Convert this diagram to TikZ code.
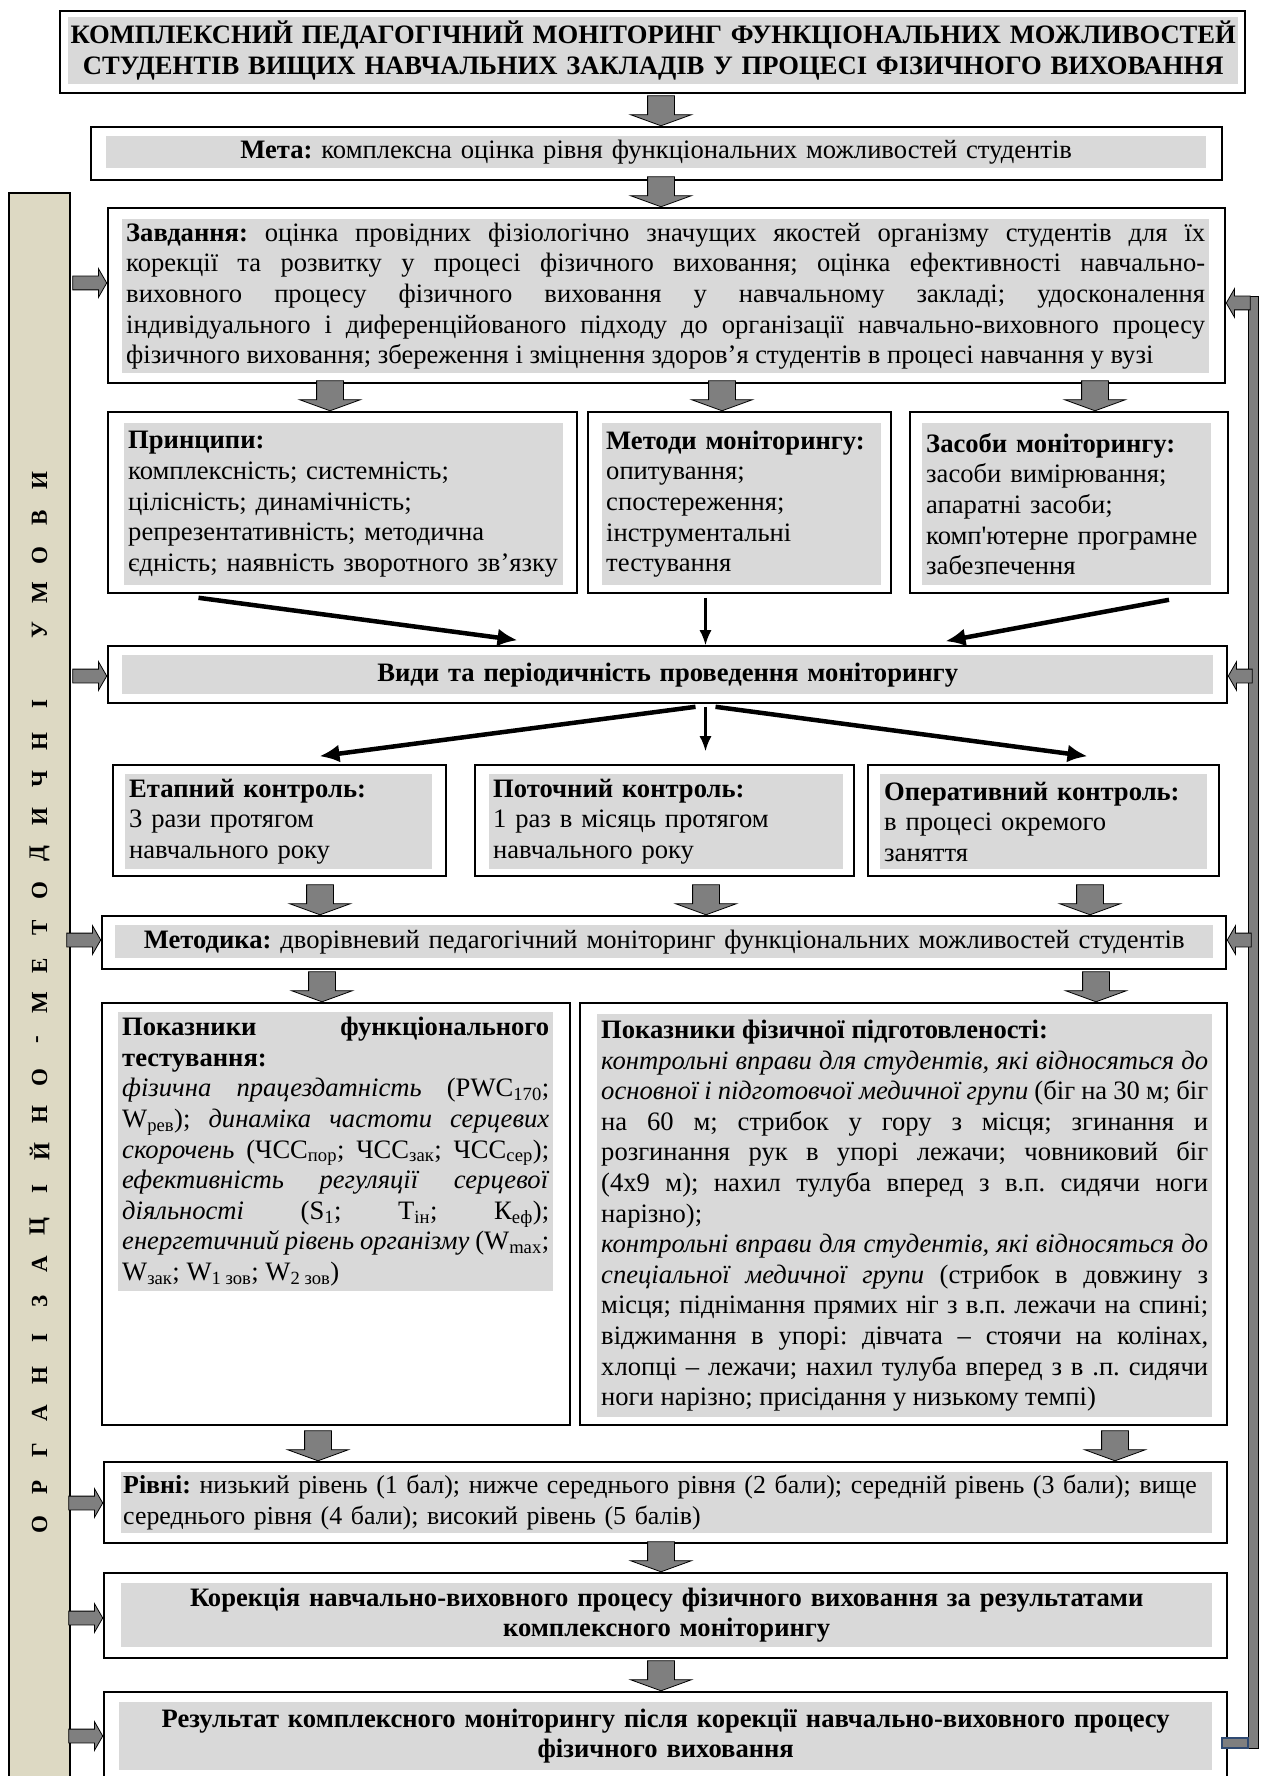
\documentclass[tikz,border=0pt]{standalone}
\usepackage{fontspec}
\setmainfont{Liberation Serif}
\usetikzlibrary{arrows.meta, positioning, fit, shapes.arrows}
\definecolor{boxgray}{HTML}{D9D9D9}
\definecolor{arrgray}{HTML}{7F7F7F}
\definecolor{barbeige}{HTML}{DDD9C3}
\definecolor{linkblue}{HTML}{2F4A72}
\newcommand{\bodyfont}{\fontsize{26.6}{30.6}\selectfont}
\newcommand{\barfont}{\fontsize{23}{23}\selectfont\bfseries}
\frenchspacing
\hyphenpenalty=10000
\begin{document}
\begin{tikzpicture}[x=1pt, y=-1pt,
    boxframe/.style={draw=black, line width=1.6pt, inner sep=0pt},
    gtext/.style={fill=boxgray, inner xsep=4pt, inner ysep=0pt, anchor=north west, font=\bodyfont},
    darrow/.style={single arrow, draw=black, fill=arrgray, line width=0.8pt, shape border rotate=270,
        minimum height=30pt, minimum width=60pt, single arrow head extend=17pt,
        single arrow tip angle=140, inner xsep=13pt, inner ysep=1pt, anchor=tip},
    rarrow/.style={single arrow, draw=black, fill=arrgray, line width=0.8pt,
        minimum height=34pt, minimum width=28pt, single arrow head extend=7.5pt,
        single arrow tip angle=120, inner xsep=1pt, inner ysep=6.5pt, anchor=tip},
    larrow/.style={rarrow, shape border rotate=180, minimum height=24pt},
    blk/.style={-{Latex[length=20pt, width=18pt]}, line width=4.5pt},
    blkthin/.style={-{Latex[length=15pt, width=12pt]}, line width=2.2pt},
    barletter/.style={rotate=90, font=\barfont, inner sep=0pt}]
\useasboundingbox (0,0) rectangle (1264,1776);

\node[draw=black, fill=barbeige, line width=1.4pt, inner sep=0pt, fit={(9,193) (70,1800)}] (orgbar) {};
\foreach \ch [count=\i] in {О,Р,Г,А,Н,І,З,А,Ц,І,Й,Н,О,-,М,Е,Т,О,Д,И,Ч,Н,І,{},У,М,О,В,И}
    \node[barletter] (bl\i) at ({39.5}, {1525-37.3*(\i-1)}) {\ch};

\node[boxframe, fit={(60,11) (1245,93)}] (tit) {};
\node[gtext, text width=1166pt, minimum height=67pt, inner xsep=2pt, align=center, font=\bodyfont\bfseries] (titT) at (68,17)
    {КОМПЛЕКСНИЙ ПЕДАГОГІЧНИЙ МОНІТОРИНГ ФУНКЦІОНАЛЬНИХ МОЖЛИВОСТЕЙ\\
     СТУДЕНТІВ ВИЩИХ НАВЧАЛЬНИХ ЗАКЛАДІВ У ПРОЦЕСІ ФІЗИЧНОГО ВИХОВАННЯ};

\node[boxframe, fit={(91,127) (1222,180)}] (meta) {};
\node[gtext, text width=1092pt, minimum height=32pt, align=center] (metaT) at (106,136)
    {\textbf{Мета:} комплексна оцінка рівня функціональних можливостей студентів};

\node[boxframe, fit={(108,208) (1225,383)}] (zav) {};
\node[gtext, text width=1079pt, minimum height=154pt, align=justify] (zavT) at (122,219)
    {\textbf{Завдання:} оцінка провідних фізіологічно значущих якостей організму студентів для їх\linebreak
     корекції та розвитку у процесі фізичного виховання; оцінка ефективності навчально-\linebreak
     виховного процесу фізичного виховання у навчальному закладі; удосконалення\linebreak
     індивідуального і диференційованого підходу до організації навчально-виховного процесу\linebreak
     фізичного виховання; збереження і зміцнення здоров’я студентів в процесі навчання у вузі};

\node[boxframe, fit={(108,412) (577,593)}] (prin) {};
\node[gtext, text width=431pt, minimum height=162pt, align=left] (prinT) at (124,423)
    {\textbf{Принципи:}\\ комплексність; системність;\\ цілісність; динамічність;\\
     репрезентативність; методична\\ єдність; наявність зворотного зв’язку};

\node[boxframe, fit={(588,412) (891,593)}] (meth) {};
\node[gtext, text width=271pt, minimum height=162pt, align=left] (methT) at (602,423)
    {\textbf{Методи моніторингу:}\\ опитування;\\ спостереження;\\ інструментальні\\ тестування};

\node[boxframe, fit={(910,412) (1228,593)}] (zas) {};
\node[gtext, text width=281pt, minimum height=162pt, align=left] (zasT) at (922,423)
    {\textbf{Засоби моніторингу:}\\ засоби вимірювання;\\ апаратні засоби;\\
     комп\textquotesingle ютерне програмне\\ забезпечення};

\node[boxframe, fit={(108,646) (1227,703)}] (vydy) {};
\node[gtext, text width=1083pt, minimum height=39pt, align=center] (vydyT) at (122,655)
    {\textbf{Види та періодичність проведення моніторингу}};

\node[boxframe, fit={(113,765) (446,876)}] (etap) {};
\node[gtext, text width=299pt, minimum height=95pt, align=left] (etapT) at (125,774)
    {\textbf{Етапний контроль:}\\ 3 рази протягом\\ навчального року};

\node[boxframe, fit={(475,765) (854,876)}] (potoch) {};
\node[gtext, text width=346pt, minimum height=95pt, align=left] (potochT) at (489,774)
    {\textbf{Поточний контроль:}\\ 1 раз в місяць протягом\\ навчального року};

\node[boxframe, fit={(868,765) (1219,876)}] (oper) {};
\node[gtext, text width=319pt, minimum height=95pt, align=left] (operT) at (880,774)
    {\textbf{Оперативний контроль:}\\ в процесі окремого\\ заняття};

\node[boxframe, fit={(102,916) (1226,969)}] (metod) {};
\node[gtext, text width=1090pt, minimum height=33pt, align=center] (metodT) at (115,925)
    {\textbf{Методика:} дворівневий педагогічний моніторинг функціональних можливостей студентів};

\node[boxframe, fit={(102,1003) (570,1425)}] (pfun) {};
\node[gtext, text width=427pt, minimum height=279pt, align=justify] (pfunT) at (118,1012)
    {\textbf{Показники функціонального\linebreak тестування:}\\
     \textit{фізична працездатність} (PWC\textsubscript{170};\linebreak
     W\textsubscript{рев}); \textit{динаміка частоти серцевих}\linebreak
     \textit{скорочень} (ЧСС\textsubscript{пор}; ЧСС\textsubscript{зак}; ЧСС\textsubscript{сер});\linebreak
     \textit{ефективність регуляції серцевої}\linebreak
     \textit{діяльності} (S\textsubscript{1}; Т\textsubscript{ін}; К\textsubscript{еф});\linebreak
     \textit{енергетичний рівень організму} (W\textsubscript{max};\linebreak
     W\textsubscript{зак}; W\textsubscript{1 зов}; W\textsubscript{2 зов})};

\node[boxframe, fit={(580,1003) (1227,1425)}] (pfiz) {};
\node[gtext, text width=607pt, minimum height=403pt, align=justify] (pfizT) at (597,1014)
    {\textbf{Показники фізичної підготовленості:}\\
     \textit{контрольні вправи для студентів, які відносяться до}\linebreak
     \textit{основної і підготовчої медичної групи} (біг на 30 м; біг\linebreak
     на 60 м; стрибок у гору з місця; згинання и\linebreak
     розгинання рук в упорі лежачи; човниковий біг\linebreak
     (4х9 м); нахил тулуба вперед з в.п. сидячи ноги\linebreak
     нарізно);\\
     \textit{контрольні вправи для студентів, які відносяться до}\linebreak
     \textit{спеціальної медичної групи} (стрибок в довжину з\linebreak
     місця; піднімання прямих ніг з в.п. лежачи на спині;\linebreak
     віджимання в упорі: дівчата – стоячи на колінах,\linebreak
     хлопці – лежачи; нахил тулуба вперед з в .п. сидячи\linebreak
     ноги нарізно; присідання у низькому темпі)};

\node[boxframe, fit={(104,1462) (1227,1543)}] (riv) {};
\node[gtext, text width=1087pt, minimum height=61pt, inner xsep=2pt, align=left, font=\fontsize{25.9}{30.6}\selectfont] (rivT) at (121,1472)
    {\mbox{\textbf{Рівні:} низький рівень (1 бал); нижче середнього рівня (2 бали); середній рівень (3 бали); вище}\\
     середнього рівня (4 бали); високий рівень (5 балів)};

\node[boxframe, fit={(104,1573) (1227,1658)}] (kor) {};
\node[gtext, text width=1083pt, minimum height=64pt, align=center, font=\bodyfont\bfseries] (korT) at (121,1583)
    {Корекція навчально-виховного процесу фізичного виховання за результатами\\ комплексного моніторингу};

\node[boxframe, fit={(104,1692) (1227,1800)}] (res) {};
\node[gtext, text width=1085pt, minimum height=68pt, align=center, font=\bodyfont\bfseries] (resT) at (119,1702)
    {Результат комплексного моніторингу після корекції навчально-виховного процесу\\ фізичного виховання};

\foreach \xx/\b [count=\i] in {661/meta, 661/zav, 330/prin, 722/meth, 1095/zas, 320/metod, 706/metod,
        1090/metod, 322/pfun, 1096/pfiz, 318/riv, 1115/riv, 661/kor, 661/res}
    \node[darrow] (d\i) at (\xx,0 |- \b.north) {};

\draw[blk] ([xshift=-144pt, yshift=-4pt]prin.south) -- ([xshift=-150pt, yshift=5pt]vydy.north);
\coordinate (mS) at ([xshift=-34pt, yshift=-4pt]meth.south);
\draw[blkthin] (mS) -- (mS |- vydy.north);
\draw[blk] ([xshift=100pt, yshift=-6pt]zas.south) -- ([xshift=278pt, yshift=4pt]vydy.north);

\draw[blk] ([xshift=28pt, yshift=-3pt]vydy.south) -- ([xshift=40pt, yshift=8pt]etap.north);
\coordinate (vS) at ([xshift=38pt, yshift=-3pt]vydy.south);
\draw[blkthin] (vS) -- ([yshift=13pt]vS |- potoch.north);
\draw[blk] ([xshift=48pt, yshift=-3pt]vydy.south) -- ([xshift=44pt, yshift=8pt]oper.north);

\foreach \b/\yy in {zav/283, vydy/676, metod/940, riv/1503, kor/1618, res/1736}
    \node[rarrow] (l\b) at (\b.west |- 0,\yy) {};

\node[draw=black, fill=arrgray, line width=1pt, inner sep=0pt, fit={(1248,297) (1258,1748)}] (fbk) {};
\node[draw=linkblue, fill=arrgray, line width=1.2pt, inner sep=0pt, fit={(1222,1738) (1248,1748)}] (fbl) {};
\foreach \b/\yy in {zav/303, vydy/676, metod/940}
    \node[larrow] (r\b) at (\b.east |- 0,\yy) {};
\end{tikzpicture}
\end{document}
